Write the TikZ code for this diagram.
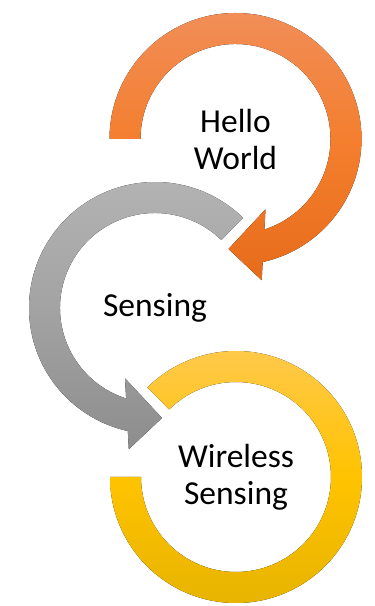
\documentclass[tikz,border=0pt]{standalone}
\usepackage{fontspec}
\setmainfont{Carlito}
\begin{document}
\begin{tikzpicture}[x=1pt,y=1pt,
  ringlabel/.style={align=center,font=\fontsize{33.5}{37}\selectfont,inner sep=0pt},
  orangefill/.style={top color=orangeTop,bottom color=orangeBot,middle color=orangeMid,draw=none},
  grayfill/.style={top color=grayTop,bottom color=grayBot,middle color=grayMid,draw=none},
  goldfill/.style={top color=goldTop,bottom color=goldBot,middle color=goldMid,draw=none}]
\definecolor{orangeTop}{HTML}{F18D57}
\definecolor{orangeMid}{HTML}{F47E2D}
\definecolor{orangeBot}{HTML}{E66C1B}
\definecolor{grayTop}{HTML}{B4B4B4}
\definecolor{grayMid}{HTML}{A3A3A3}
\definecolor{grayBot}{HTML}{8D8D8D}
\definecolor{goldTop}{HTML}{FFC94A}
\definecolor{goldMid}{HTML}{FFC300}
\definecolor{goldBot}{HTML}{E8B400}
\useasboundingbox (0,0) rectangle (375,606);

% centres of the three rings
\coordinate (c1) at (235.5,467);
\coordinate (c2) at (155,298);
\coordinate (c3) at (236,129);

% first ring: clockwise arrow from the left, head pointing left at the bottom
\begin{scope}[shift={(c1)}]
  \fill[orangefill] (180:126) arc[start angle=180,end angle=-77.55,radius=126]
    -- (26.2,-141.2) -- (-7,-110) -- (30,-70.3)
    -- (-72.3:95) arc[start angle=-72.3,end angle=180,radius=95] -- cycle;
\end{scope}

% second ring: counter-clockwise arrow, head pointing right at the bottom
\begin{scope}[shift={(c2)}]
  \fill[grayfill] (45.7:126) arc[start angle=45.7,end angle=257.55,radius=126]
    -- (-26.2,-141.2) -- (7,-110) -- (-30,-70.3)
    -- (252.3:95) arc[start angle=252.3,end angle=45.7,radius=95] -- cycle;
\end{scope}

% third ring: open circle without a head
\begin{scope}[shift={(c3)}]
  \fill[goldfill] (-180:126) arc[start angle=-180,end angle=134.7,radius=126]
    -- (134.7:95) arc[start angle=134.7,end angle=-180,radius=95] -- cycle;
\end{scope}

\node[ringlabel] (t1) at (c1) {Hello\\World};
\node[ringlabel] (t2) at (c2) {Sensing};
\node[ringlabel] (t3) at (c3) {Wireless\\Sensing};
\end{tikzpicture}
\end{document}
